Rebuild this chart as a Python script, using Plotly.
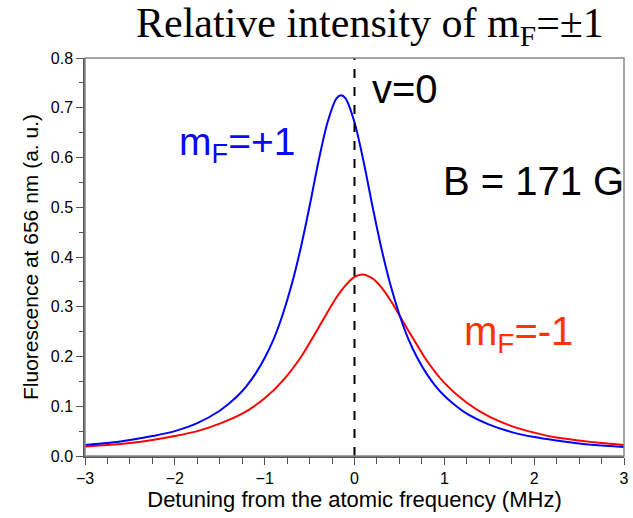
import plotly.graph_objects as go

# m_F = +1 (blue): detuning (MHz) and fluorescence
x_plus = [-3.0, -2.75, -2.5, -2.25, -2.0, -1.75, -1.5, -1.4, -1.3, -1.2, -1.1, -1.0, -0.9, -0.8,
          -0.7, -0.6, -0.5, -0.4, -0.3, -0.2, -0.15, -0.1, 0.0, 0.1, 0.2, 0.3, 0.4, 0.5, 0.6, 0.7,
          0.8, 0.9, 1.0, 1.1, 1.25, 1.5, 1.75, 2.0, 2.25, 2.5, 2.75, 3.0]
mf_plus = [0.022, 0.026, 0.032, 0.040, 0.050, 0.066, 0.091, 0.105, 0.121, 0.141, 0.166, 0.197,
           0.235, 0.284, 0.344, 0.417, 0.502, 0.593, 0.671, 0.719, 0.725, 0.719, 0.671, 0.593,
           0.502, 0.417, 0.344, 0.284, 0.235, 0.197, 0.166, 0.141, 0.121, 0.105, 0.085, 0.063,
           0.048, 0.038, 0.031, 0.025, 0.021, 0.018]

# m_F = -1 (red)
x_minus = [-3.0, -2.75, -2.5, -2.25, -2.0, -1.75, -1.5, -1.25, -1.0, -0.8, -0.6, -0.4, -0.2,
           -0.1, 0.0, 0.09, 0.2, 0.3, 0.4, 0.5, 0.6, 0.7, 0.8, 1.0, 1.25, 1.5, 1.75, 2.0, 2.25,
           2.5, 2.75, 3.0]
mf_minus = [0.019, 0.022, 0.026, 0.032, 0.040, 0.050, 0.065, 0.085, 0.116, 0.151, 0.198, 0.258,
            0.319, 0.343, 0.360, 0.365, 0.357, 0.339, 0.313, 0.283, 0.252, 0.222, 0.193, 0.147,
            0.107, 0.079, 0.060, 0.047, 0.037, 0.031, 0.026, 0.022]

x_ticks = [-3, -2, -1, 0, 1, 2, 3]
x_tick_text = ["\u22123", "\u22122", "\u22121", "0", "1", "2", "3"]
y_ticks = [0.0, 0.1, 0.2, 0.3, 0.4, 0.5, 0.6, 0.7, 0.8]

fig = go.Figure()
fig.add_trace(go.Scatter(x=x_minus, y=mf_minus, mode="lines",
                         line=dict(color="#ff0000", width=2, shape="spline", smoothing=0.8), showlegend=False))
fig.add_trace(go.Scatter(x=x_plus, y=mf_plus, mode="lines",
                         line=dict(color="#0000ff", width=2, shape="spline", smoothing=0.8), showlegend=False))

# vertical dashed line at zero detuning
fig.add_shape(type="line", x0=0, x1=0, y0=0, y1=0.8, xref="x", yref="y",
              line=dict(color="black", width=2, dash="dash"))
# frame
fig.add_shape(type="rect", xref="paper", yref="paper", x0=0, x1=1, y0=0, y1=1,
              line=dict(color="#888888", width=1.5), layer="above")

sans = "Liberation Sans, Arial, sans-serif"
axis_font = dict(family=sans, size=16, color="black")
fig.update_xaxes(range=[-3, 3], tickvals=x_ticks, ticktext=x_tick_text, ticks="outside", ticklen=7,
                 tickcolor="#555555", tickwidth=1, showline=True, linecolor="#555555", linewidth=1.5,
                 showgrid=False, zeroline=False, tickfont=axis_font, automargin=False,
                 minor=dict(dtick=0.25, ticks="outside", ticklen=6, tickcolor="#555555", showgrid=False),
                 title=dict(text="Detuning from the atomic frequency (MHz)",
                            font=dict(family=sans, size=22, color="black"), standoff=6))
fig.update_yaxes(range=[0, 0.8], tickvals=y_ticks, tickformat=".1f", ticks="outside", ticklen=7,
                 tickcolor="#555555", tickwidth=1, showline=True, linecolor="#555555", linewidth=1.5,
                 showgrid=False, zeroline=False, tickfont=axis_font, automargin=False,
                 minor=dict(dtick=0.05, ticks="outside", ticklen=4, tickcolor="#555555", showgrid=False),
                 title=dict(text="Fluorescence at 656 nm (a. u.)",
                            font=dict(family=sans, size=21, color="black"), standoff=6))

fig.add_annotation(text="Relative intensity of m<sub>F</sub>=\u00b11", xref="paper", yref="paper",
                   x=0.529, y=1.08, xanchor="center", yanchor="middle", showarrow=False,
                   font=dict(family="Liberation Serif, Times New Roman, serif", size=42, color="black"))
fig.add_annotation(text="v=0", x=0.56, y=0.738, xref="x", yref="y", xanchor="center", showarrow=False,
                   font=dict(family=sans, size=40, color="black"))
fig.add_annotation(text="m<sub>F</sub>=+1", x=-1.31, y=0.627, xref="x", yref="y", showarrow=False,
                   font=dict(family=sans, size=39, color="#0a0af0"))
fig.add_annotation(text="B = 171 G", x=1.99, y=0.553, xref="x", yref="y", showarrow=False,
                   font=dict(family=sans, size=40, color="black"))
fig.add_annotation(text="m<sub>F</sub>=-1", x=1.83, y=0.245, xref="x", yref="y", showarrow=False,
                   font=dict(family=sans, size=40, color="#ff3300"))

fig.update_layout(width=633, height=518, margin=dict(l=85, r=9, t=58, b=62),
                  paper_bgcolor="white", plot_bgcolor="white")

fig.write_html("out.html")
